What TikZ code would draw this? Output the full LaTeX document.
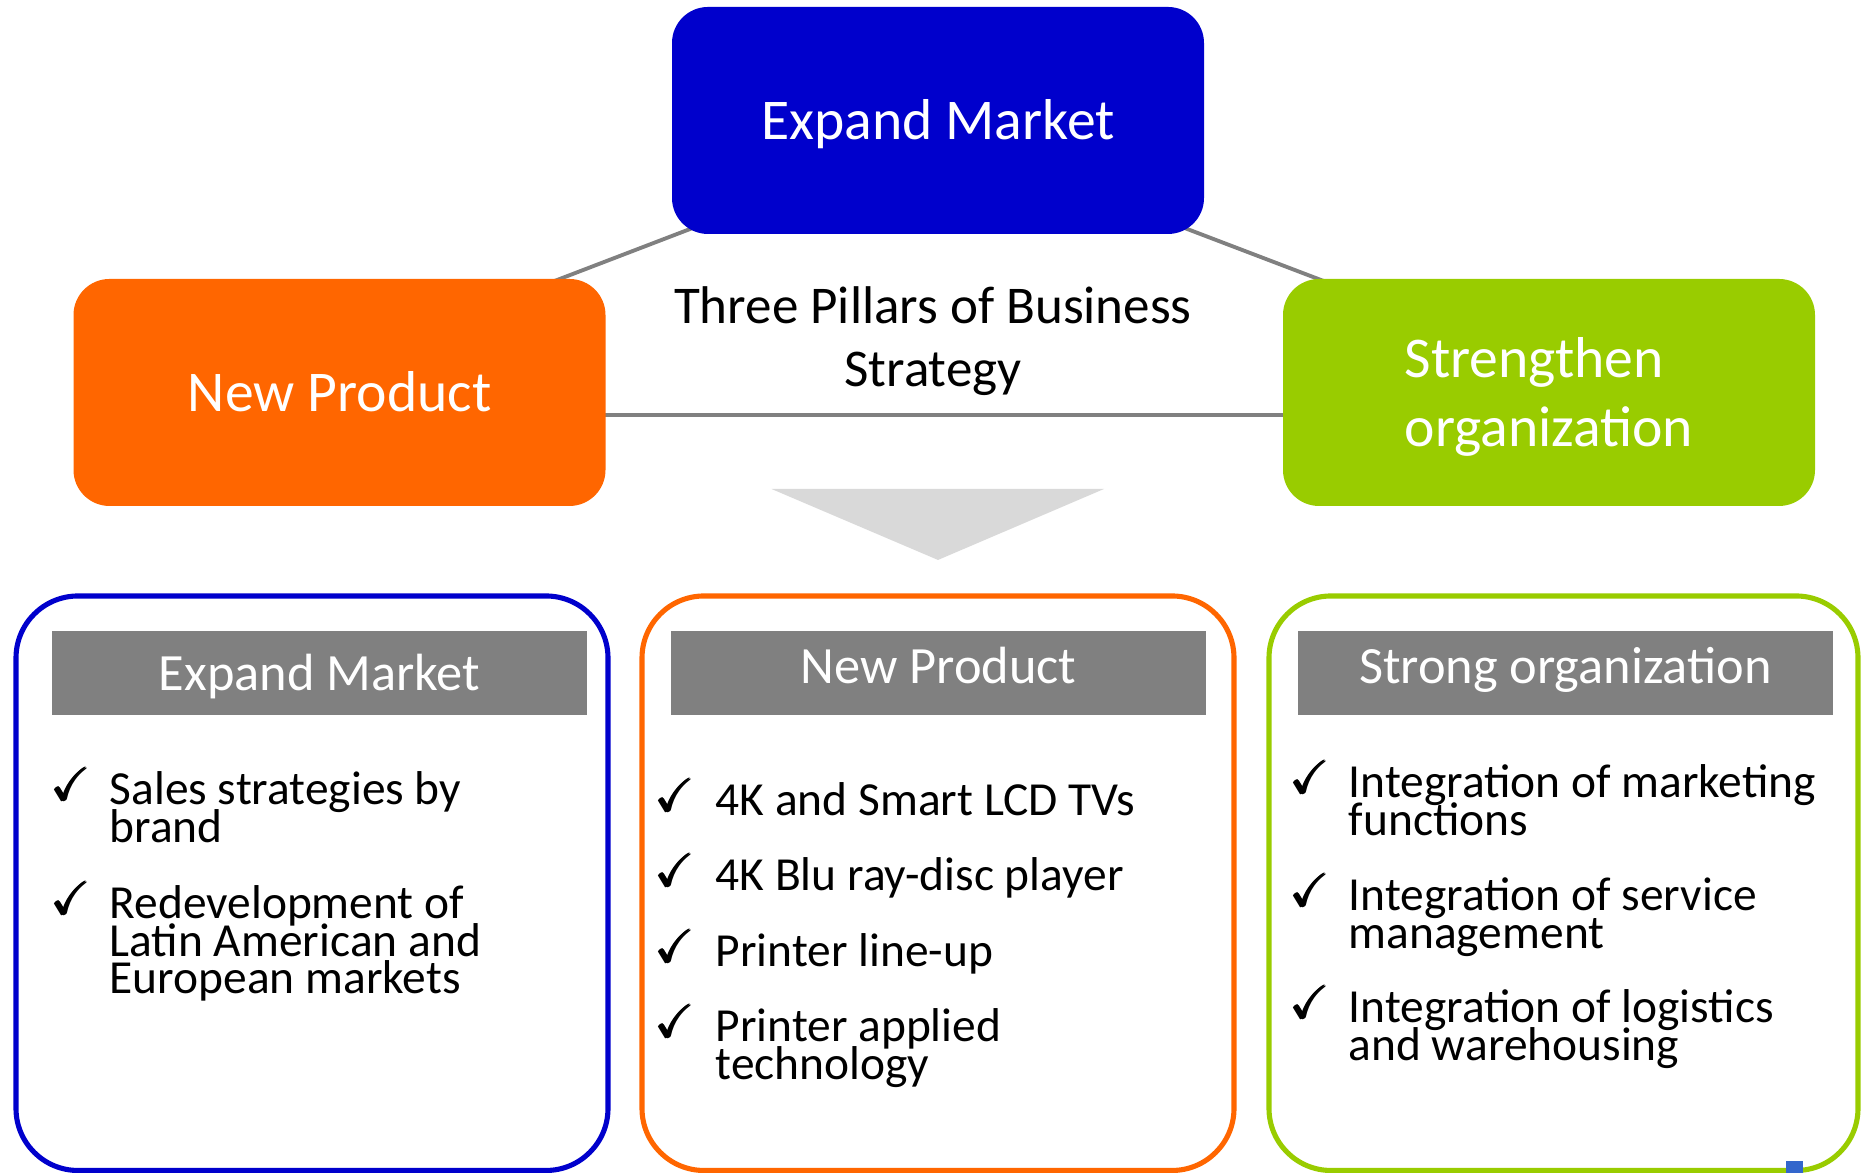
\documentclass[tikz,border=0pt]{standalone}
\usepackage{fontspec}
\setmainfont{Carlito}
\usepackage{amsmath,amssymb}
\usetikzlibrary{positioning}

\definecolor{marketblue}{RGB}{0,0,204}
\definecolor{productorange}{RGB}{255,102,0}
\definecolor{orggreen}{RGB}{153,204,0}
\definecolor{bargrey}{RGB}{128,128,128}
\definecolor{chevrongrey}{RGB}{217,217,217}
\definecolor{cornerblue}{RGB}{51,102,204}

\newcommand{\tightlines}{\lineskiplimit=-20pt\relax}

\tikzset{
  pillar/.style={rectangle, rounded corners=0.36cm, minimum width=5.32cm, minimum height=2.27cm, inner sep=0pt, text=white, font=\fontsize{16.4}{19.9}\selectfont},
  panel/.style={rectangle, rounded corners=0.62cm, line width=1.45pt, minimum width=5.92cm, minimum height=5.745cm, inner sep=0pt},
  headbar/.style={rectangle, fill=bargrey, minimum width=5.35cm, minimum height=0.84cm, inner sep=0pt},
  headtext/.style={anchor=base, inner sep=0pt, text=white, font=\fontsize{14.9}{17.9}\selectfont},
  tickmark/.style={anchor=base west, inner sep=0pt, font=\fontsize{13.2}{14}\selectfont},
  checkitem/.style={anchor=base west, inner sep=0pt, align=left, font=\fontsize{13.5}{10.7}\selectfont\tightlines},
}

\begin{document}
\begin{tikzpicture}
\useasboundingbox (0,0) rectangle (18.61,11.73);

\coordinate (apex) at (9.38,10.39);
\coordinate (baseL) at (2.05,7.58);
\coordinate (baseR) at (16.75,7.58);
\draw[bargrey, line width=1.1pt] (apex) -- (baseL) -- (baseR) -- cycle;

\node[pillar, fill=marketblue, text height=11.1pt, text depth=0pt] (market) at (9.38,10.525) {Expand Market};
\node[pillar, fill=productorange, text height=11.1pt, text depth=0pt] (product) at (3.395,7.805) {New Product};
\node[pillar, fill=orggreen, align=left, text height=31pt, text depth=0pt] (organization) at (15.49,7.805) {Strengthen\\organization};

% last line sits on the anchor
\node[anchor=base, inner sep=0pt, align=center, font=\fontsize{15.1}{18.2}\selectfont] (pillars) at (9.33,7.86) {Three Pillars of Business\\Strategy};

\fill[chevrongrey] (7.715,6.84) -- (11.04,6.84) -- (9.38,6.13) -- cycle;

\node[panel, draw=marketblue] (panelA) at (3.12,2.8975) {};
\node[panel, draw=productorange] (panelB) at (9.38,2.8975) {};
\node[panel, draw=orggreen, minimum width=5.89cm] (panelC) at (15.635,2.8975) {};

\node[headbar] (barA) at (3.195,5.00) {};
\node[headbar] (barB) at (9.385,5.00) {};
\node[headbar] (barC) at (15.655,5.00) {};
\node[headtext] (headA) at (3.195,4.82) {Expand Market};
\node[headtext] (headB) at (9.385,4.89) {New Product};
\node[headtext] (headC) at (15.655,4.89) {Strong organization};

\node[tickmark] (tickA1) at (0.52,3.72) {\pmb{$\checkmark$}};
\node[checkitem] (itemA1) at (1.09,3.304) {Sales strategies by\\brand};
\node[tickmark] (tickA2) at (0.52,2.58) {\pmb{$\checkmark$}};
\node[checkitem] (itemA2) at (1.09,1.79) {Redevelopment of\\Latin American and\\European markets};

\node[tickmark] (tickB1) at (6.56,3.61) {\pmb{$\checkmark$}};
\node[checkitem] (itemB1) at (7.15,3.57) {4K and Smart LCD TVs};
\node[tickmark] (tickB2) at (6.56,2.86) {\pmb{$\checkmark$}};
\node[checkitem] (itemB2) at (7.15,2.82) {4K Blu ray-disc player};
\node[tickmark] (tickB3) at (6.56,2.10) {\pmb{$\checkmark$}};
\node[checkitem] (itemB3) at (7.15,2.06) {Printer line-up};
\node[tickmark] (tickB4) at (6.56,1.35) {\pmb{$\checkmark$}};
\node[checkitem] (itemB4) at (7.15,0.934) {Printer applied\\technology};

\node[tickmark] (tickC1) at (12.91,3.79) {\pmb{$\checkmark$}};
\node[checkitem] (itemC1) at (13.48,3.374) {Integration of marketing\\functions};
\node[tickmark] (tickC2) at (12.91,2.66) {\pmb{$\checkmark$}};
\node[checkitem] (itemC2) at (13.48,2.244) {Integration of service\\management};
\node[tickmark] (tickC3) at (12.91,1.54) {\pmb{$\checkmark$}};
\node[checkitem] (itemC3) at (13.48,1.124) {Integration of logistics\\and warehousing};

\fill[cornerblue] (17.86,0) rectangle (18.03,0.12);

\end{tikzpicture}
\end{document}
